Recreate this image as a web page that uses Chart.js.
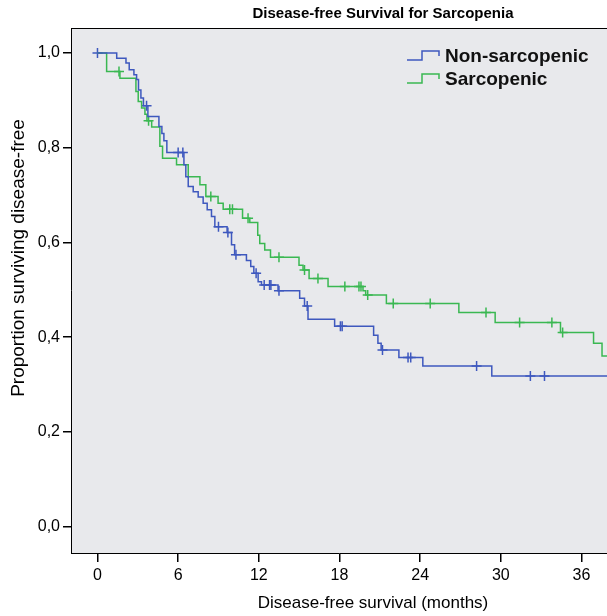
<!DOCTYPE html>
<html>
<head>
<meta charset="utf-8">
<script src="https://cdn.jsdelivr.net/npm/chart.js@4.4.1/dist/chart.umd.min.js"></script>
<style>
    html, body { margin: 0; padding: 0; background: #fff; }
    #wrap { width: 607px; height: 616px; position: relative; }
</style>
</head>
<body>
<div id="wrap"><canvas id="kmChart" width="607" height="616"></canvas></div>
<script>
const xTicks = [0, 6, 12, 18, 24, 30, 36];
const yTicks = [0, 0.2, 0.4, 0.6, 0.8, 1.0];

// Non-sarcopenic: event times (months) and survival after each step
const nonSarcTimes = [0, 1.43, 2.12, 2.36, 2.71, 2.91, 3.05, 3.23, 3.42, 3.75, 4.57, 4.79, 4.94, 5.16,
    6.43, 6.57, 6.75, 7.12, 7.49, 7.86, 8.16, 8.48, 8.73, 9.64, 9.97, 10.2, 11.08, 11.4, 11.63, 11.95,
    12.2, 13.43, 15.04, 15.4, 15.66, 17.64, 20.54, 20.86, 21.1, 22.42, 24.2, 29.33, 40];
const nonSarcSurv = [1, 0.989, 0.979, 0.965, 0.954, 0.944, 0.922, 0.905, 0.889, 0.866, 0.845, 0.83, 0.815, 0.79,
    0.764, 0.739, 0.718, 0.707, 0.696, 0.683, 0.669, 0.655, 0.633, 0.621, 0.595, 0.574, 0.562, 0.549, 0.535, 0.517,
    0.51, 0.498, 0.482, 0.466, 0.438, 0.423, 0.404, 0.387, 0.373, 0.357, 0.339, 0.318, 0.318];
const nonSarcCensored = [0, 3.65, 6.0, 6.35, 9.0, 9.7, 10.3, 11.8, 12.4, 12.8, 12.9, 13.5, 15.6,
    18.07, 18.2, 21.2, 23.1, 23.3, 28.2, 32.2, 33.25];

// Sarcopenic
const sarcTimes = [0, 0.68, 1.67, 2.86, 3.03, 3.28, 3.53, 3.68, 4.03, 4.64, 4.84, 5.88, 6.75, 7.62, 8.06,
    8.97, 9.35, 10.79, 11.33, 11.92, 12.07, 12.44, 12.87, 14.99, 15.29, 15.74, 17.15, 19.75, 19.95,
    21.49, 26.88, 29.58, 34.44, 36.9, 37.53, 40];
const sarcSurv = [1, 0.961, 0.947, 0.919, 0.898, 0.884, 0.871, 0.857, 0.844, 0.803, 0.778, 0.764, 0.739, 0.722, 0.697,
    0.683, 0.67, 0.651, 0.642, 0.615, 0.598, 0.584, 0.569, 0.552, 0.542, 0.524, 0.507, 0.498, 0.489,
    0.471, 0.452, 0.431, 0.41, 0.387, 0.36, 0.36];
const sarcCensored = [1.6, 3.8, 8.43, 9.84, 10.04, 11.2, 13.5, 15.4, 16.4, 18.4, 19.45, 19.6, 20.1,
    22.0, 24.75, 28.9, 31.4, 33.8, 34.6];

const blue = 'rgb(62, 88, 190)';
const green = 'rgb(58, 184, 82)';
const fontFamily = '"Liberation Sans", Arial, sans-serif';

function survAt(times, surv, t) {
    let s = surv[0];
    for (let i = 0; i < times.length; i++) {
        if (times[i] <= t) s = surv[i];
    }
    return s;
}

function curvePoints(times, surv) {
    return times.map((t, i) => ({ x: t, y: surv[i] }));
}

function censorPoints(censored, times, surv) {
    return censored.map(t => ({ x: t, y: survAt(times, surv, t) }));
}

const plotDecor = {
    id: 'plotDecor',
    beforeDraw(chart) {
        const { ctx, chartArea } = chart;
        ctx.save();
        ctx.fillStyle = 'rgb(232, 233, 236)';
        ctx.fillRect(chartArea.left, chartArea.top, chartArea.right - chartArea.left, chartArea.bottom - chartArea.top);
        ctx.restore();
    },
    afterDraw(chart) {
        const { ctx, chartArea } = chart;
        ctx.save();
        // top border of the plot box
        ctx.strokeStyle = '#000';
        ctx.lineWidth = 1;
        ctx.beginPath();
        ctx.moveTo(chartArea.left, chartArea.top + 0.5);
        ctx.lineTo(chartArea.right, chartArea.top + 0.5);
        ctx.stroke();

        ctx.fillStyle = '#000';
        ctx.textAlign = 'center';
        ctx.textBaseline = 'middle';
        ctx.font = 'bold 15px ' + fontFamily;
        ctx.fillText('Disease-free Survival for Sarcopenia', 383, 14);

        ctx.font = '17px ' + fontFamily;
        ctx.fillText('Disease-free survival (months)', 373, 603);

        ctx.save();
        ctx.translate(19, 258);
        ctx.rotate(-Math.PI / 2);
        ctx.font = '19px ' + fontFamily;
        ctx.fillText('Proportion surviving disease-free', 0, 0);
        ctx.restore();

        // legend
        const items = [
            { label: 'Non-sarcopenic', color: blue, y: 57 },
            { label: 'Sarcopenic', color: green, y: 80 }
        ];
        items.forEach(item => {
            ctx.strokeStyle = item.color;
            ctx.lineWidth = 1.5;
            ctx.beginPath();
            ctx.moveTo(407, item.y + 3);
            ctx.lineTo(422, item.y + 3);
            ctx.lineTo(422, item.y - 6);
            ctx.lineTo(439, item.y - 6);
            ctx.lineTo(439, item.y - 1);
            ctx.stroke();
            ctx.fillStyle = '#111';
            ctx.textAlign = 'left';
            ctx.font = 'bold 19px ' + fontFamily;
            ctx.fillText(item.label, 445, item.y);
        });
        ctx.restore();
    }
};

new Chart(document.getElementById('kmChart'), {
    type: 'line',
    data: {
        datasets: [
            {
                label: 'Non-sarcopenic',
                data: curvePoints(nonSarcTimes, nonSarcSurv),
                borderColor: blue,
                borderWidth: 1.5,
                stepped: 'before',
                pointRadius: 0
            },
            {
                label: 'Sarcopenic',
                data: curvePoints(sarcTimes, sarcSurv),
                borderColor: green,
                borderWidth: 1.5,
                stepped: 'before',
                pointRadius: 0
            },
            {
                label: 'Non-sarcopenic censored',
                data: censorPoints(nonSarcCensored, nonSarcTimes, nonSarcSurv),
                showLine: false,
                pointStyle: 'cross',
                pointRadius: 5,
                pointBorderWidth: 1.5,
                borderColor: blue,
                backgroundColor: blue
            },
            {
                label: 'Sarcopenic censored',
                data: censorPoints(sarcCensored, sarcTimes, sarcSurv),
                showLine: false,
                pointStyle: 'cross',
                pointRadius: 5,
                pointBorderWidth: 1.5,
                borderColor: green,
                backgroundColor: green
            }
        ]
    },
    options: {
        responsive: false,
        animation: false,
        layout: { autoPadding: false, padding: { top: 28, left: 0, right: 0, bottom: 0 } },
        plugins: {
            legend: { display: false },
            tooltip: { enabled: false },
            title: { display: false }
        },
        scales: {
            x: {
                type: 'linear',
                min: -1.97,
                max: 37.9,
                afterBuildTicks: s => { s.ticks = xTicks.map(v => ({ value: v })); },
                afterFit: s => {
                    s.height = 63;
                    s.paddingLeft = 0;
                    s.paddingRight = 0;
                },
                grid: { drawOnChartArea: false, drawTicks: true, tickLength: 9, color: '#000', lineWidth: 1.5 },
                border: { display: true, color: '#000', width: 1 },
                ticks: {
                    color: '#000',
                    font: { family: fontFamily, size: 16 },
                    padding: 4,
                    maxRotation: 0,
                    autoSkip: false
                }
            },
            y: {
                type: 'linear',
                min: -0.056,
                max: 1.053,
                afterBuildTicks: s => { s.ticks = yTicks.map(v => ({ value: v })); },
                afterFit: s => {
                    s.width = 71;
                    s.paddingTop = 0;
                    s.paddingBottom = 0;
                },
                grid: { drawOnChartArea: false, drawTicks: true, tickLength: 8, color: '#000', lineWidth: 1.5 },
                border: { display: true, color: '#000', width: 1 },
                ticks: {
                    color: '#000',
                    font: { family: fontFamily, size: 16 },
                    padding: 3,
                    callback: v => v.toFixed(1).replace('.', ',')
                }
            }
        }
    },
    plugins: [plotDecor]
});
</script>
</body>
</html>
